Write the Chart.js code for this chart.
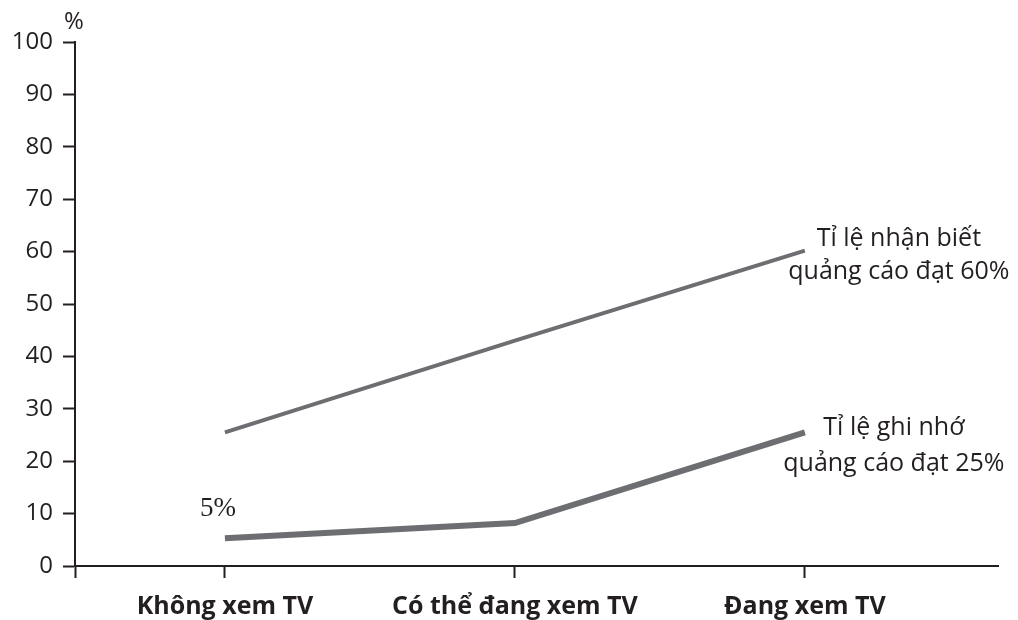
<!DOCTYPE html>
<html lang="vi">
<head>
    <meta charset="UTF-8">
    <title>Tỉ lệ nhận biết và ghi nhớ quảng cáo</title>
    <script src="https://cdn.jsdelivr.net/npm/chart.js"></script>
    <style>
        html, body { margin: 0; padding: 0; background: #fff; }
        .chart-box { width: 1018px; height: 620px; }
    </style>
</head>
<body>
    <div class="chart-box">
        <canvas id="adChart"></canvas>
    </div>
    <script>
    // Du lieu doc tu hinh
    const categories = ['Không xem TV', 'Có thể đang xem TV', 'Đang xem TV'];
    const nhanBiet = [25.5, 43, 60.2];
    const ghiNho = [5.3, 8.2, 25.5];
    const yTicks = [0, 10, 20, 30, 40, 50, 60, 70, 80, 90, 100];
    const nhanBietLabel = ['Tỉ lệ nhận biết', 'quảng cáo đạt 60%'];
    const ghiNhoLabel = ['Tỉ lệ ghi nhớ', 'quảng cáo đạt 25%'];
    const startLabel = '5%';

    const ink = '#231f20';
    const lineGray = '#6d6e71';
    const font = '"Open Sans", "Noto Sans", sans-serif';

    const X_MIN = -0.517, X_MAX = 2.666;

    // Ve chu thich truc tiep len bieu do
    const annotations = {
        id: 'annotations',
        afterDraw(chart) {
            const ctx = chart.ctx;
            const x = chart.scales.x, y = chart.scales.y;
            ctx.save();
            ctx.fillStyle = ink;
            ctx.textBaseline = 'middle';
            ctx.textAlign = 'center';
            // "%" tren dau truc Y
            ctx.font = '24px ' + font;
            ctx.fillText('%', chart.chartArea.left - 1, y.getPixelForValue(100) - 20);
            // nhan 5%
            ctx.font = '27px "Liberation Serif", serif';
            ctx.fillText(startLabel, x.getPixelForValue(0) - 7, y.getPixelForValue(ghiNho[0]) - 29);
            // nhan cuoi duong
            ctx.font = '25px ' + font;
            const lx = x.getPixelForValue(2) + 94;
            ctx.fillText(nhanBietLabel[0], lx, y.getPixelForValue(nhanBiet[2]) - 12);
            ctx.fillText(nhanBietLabel[1], lx, y.getPixelForValue(nhanBiet[2]) + 21);
            ctx.fillText(ghiNhoLabel[0], lx - 5, y.getPixelForValue(ghiNho[2]) - 5);
            ctx.fillText(ghiNhoLabel[1], lx - 5, y.getPixelForValue(ghiNho[2]) + 31);
            ctx.restore();
        }
    };

    new Chart(document.getElementById('adChart'), {
        type: 'line',
        data: {
            datasets: [
                {
                    label: 'Tỉ lệ nhận biết',
                    data: nhanBiet.map((v, i) => ({ x: i, y: v })),
                    borderColor: lineGray,
                    borderWidth: 4,
                    pointRadius: 0,
                    tension: 0
                },
                {
                    label: 'Tỉ lệ ghi nhớ',
                    data: ghiNho.map((v, i) => ({ x: i, y: v })),
                    borderColor: lineGray,
                    borderWidth: 6,
                    pointRadius: 0,
                    tension: 0
                }
            ]
        },
        options: {
            responsive: true,
            maintainAspectRatio: false,
            animation: false,
            layout: { padding: { top: 42, right: 20, left: 0, bottom: 0 } },
            plugins: {
                legend: { display: false },
                tooltip: { enabled: false }
            },
            scales: {
                x: {
                    type: 'linear',
                    min: X_MIN,
                    max: X_MAX,
                    afterBuildTicks(scale) {
                        scale.ticks = [{ value: X_MIN }, { value: 0 }, { value: 1 }, { value: 2 }];
                    },
                    afterFit(scale) { scale.height = 54; },
                    border: { display: true, color: ink, width: 2 },
                    grid: {
                        display: true,
                        drawOnChartArea: false,
                        drawTicks: true,
                        tickLength: 12,
                        tickWidth: 2,
                        color: ink
                    },
                    ticks: {
                        autoSkip: false,
                        maxRotation: 0,
                        padding: 14,
                        color: ink,
                        font: { family: font, size: 25, weight: 'bold' },
                        callback: (v) => Number.isInteger(v) ? categories[v] : ''
                    }
                },
                y: {
                    min: 0,
                    max: 100,
                    afterBuildTicks(scale) {
                        scale.ticks = yTicks.map(v => ({ value: v }));
                    },
                    afterFit(scale) { scale.width = 75; },
                    border: { display: true, color: ink, width: 2 },
                    grid: {
                        display: true,
                        drawOnChartArea: false,
                        drawTicks: true,
                        tickLength: 12,
                        tickWidth: 2,
                        color: ink
                    },
                    ticks: {
                        padding: 10,
                        color: ink,
                        font: { family: font, size: 24 }
                    }
                }
            }
        },
        plugins: [annotations]
    });
    </script>
</body>
</html>
